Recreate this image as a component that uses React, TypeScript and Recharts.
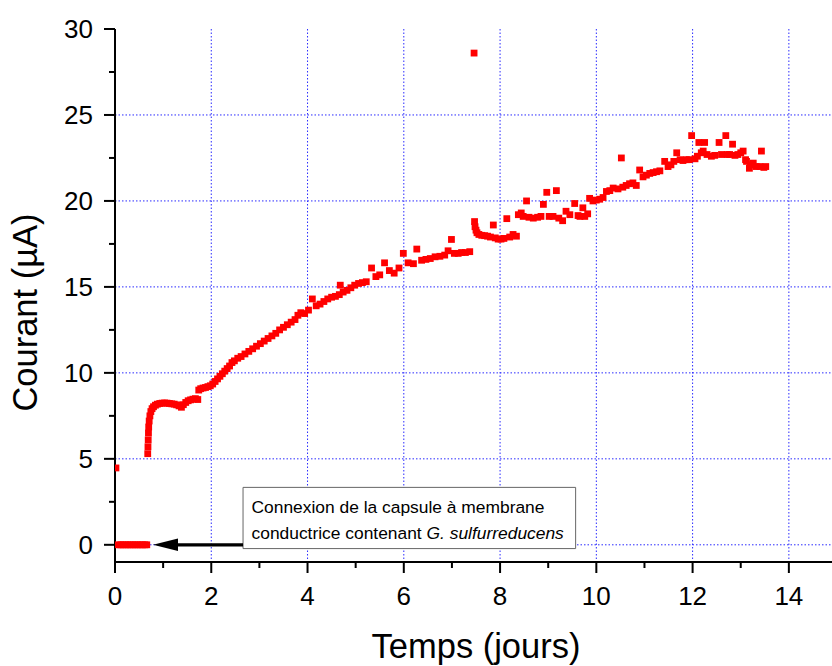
import React from 'react';
import {
  ScatterChart,
  Scatter,
  XAxis,
  YAxis,
  CartesianGrid,
  ReferenceArea,
  ReferenceLine,
} from 'recharts';

const FONT = 'Arial, "Liberation Sans", Helvetica, sans-serif';

// ---- axes ----
const X_TICKS = [0, 1, 2, 3, 4, 5, 6, 7, 8, 9, 10, 11, 12, 13, 14];
const X_MAJOR = [0, 2, 4, 6, 8, 10, 12, 14];
const Y_TICKS = [0, 2.5, 5, 7.5, 10, 12.5, 15, 17.5, 20, 22.5, 25, 27.5, 30];
const Y_MAJOR = [0, 5, 10, 15, 20, 25, 30];
const GRID_X = [2, 4, 6, 8, 10, 12, 14];
const GRID_Y = [0, 5, 10, 15, 20, 25];

// ---- data (days, µA) ----
const BASE_DAYS = [0.02, 0.07, 0.12, 0.17, 0.22, 0.27, 0.32, 0.37, 0.42, 0.47, 0.52, 0.57, 0.62, 0.66];
const BASE_UA = [4.47, 0, 0, 0, 0, 0, 0, 0, 0, 0, 0, 0, 0, 0];

const START_DAYS = [0.68, 0.685, 0.69, 0.695, 0.7, 0.71, 0.725, 0.745, 0.77, 0.8, 0.84, 0.88, 0.93, 0.98, 1.03, 1.08, 1.13, 1.18, 1.23, 1.28, 1.33, 1.38, 1.42, 1.47, 1.52, 1.57, 1.62, 1.67, 1.72];
const START_UA = [5.3, 5.7, 6.1, 6.5, 6.85, 7.2, 7.5, 7.75, 7.92, 8.03, 8.12, 8.18, 8.22, 8.24, 8.25, 8.24, 8.22, 8.2, 8.18, 8.14, 8.08, 8.0, 8.15, 8.28, 8.38, 8.43, 8.47, 8.5, 8.45];

const GROWTH_DAYS = [1.74, 1.78, 1.83, 1.88, 1.93, 1.98, 2.03, 2.08, 2.13, 2.18, 2.23, 2.28, 2.33, 2.38, 2.43, 2.48, 2.55, 2.62, 2.7, 2.78, 2.86, 2.94, 3.02, 3.1, 3.18, 3.26, 3.34, 3.42, 3.5, 3.58, 3.66, 3.74, 3.8, 3.86, 3.94, 4.02, 4.1, 4.18, 4.26, 4.34, 4.42, 4.5, 4.58, 4.66, 4.68, 4.74, 4.82, 4.9, 4.98, 5.06, 5.14, 5.22, 5.33, 5.42, 5.5, 5.6, 5.7, 5.8, 5.9, 5.99, 6.09, 6.2, 6.27, 6.37, 6.46, 6.55, 6.65, 6.75, 6.85, 6.92, 6.99, 7.05, 7.13, 7.2, 7.28, 7.37];
const GROWTH_UA = [9.0, 9.08, 9.12, 9.15, 9.2, 9.25, 9.35, 9.5, 9.65, 9.8, 9.95, 10.1, 10.25, 10.4, 10.6, 10.7, 10.85, 10.95, 11.1, 11.25, 11.4, 11.55, 11.7, 11.85, 12.0, 12.15, 12.3, 12.5, 12.65, 12.8, 12.95, 13.1, 13.35, 13.5, 13.45, 13.65, 14.3, 13.9, 14.0, 14.15, 14.3, 14.4, 14.45, 14.55, 15.1, 14.7, 14.8, 14.95, 15.1, 15.2, 15.25, 15.3, 16.1, 15.6, 15.7, 16.4, 15.95, 15.8, 16.1, 16.95, 16.4, 16.35, 17.2, 16.55, 16.6, 16.65, 16.75, 16.78, 16.85, 17.1, 17.76, 16.95, 16.95, 17.0, 17.0, 17.05];

const MID_DAYS = [7.46, 7.47, 7.48, 7.5, 7.52, 7.56, 7.62, 7.68, 7.74, 7.8, 7.86, 7.9, 7.96, 8.02, 8.08, 8.14, 8.2, 8.27, 8.34, 8.38, 8.44, 8.48, 8.55, 8.6, 8.69, 8.78, 8.85, 8.9, 8.97, 9.02, 9.1, 9.17, 9.22, 9.3, 9.37, 9.45, 9.55, 9.62, 9.66, 9.72, 9.76, 9.82, 9.86, 9.93];
const MID_UA = [28.6, 18.8, 18.5, 18.3, 18.15, 18.05, 18.0, 17.98, 17.95, 17.9, 18.6, 17.85, 17.78, 17.78, 17.82, 18.97, 17.9, 18.05, 17.95, 19.2, 19.3, 19.1, 20.0, 19.05, 19.0, 19.05, 19.1, 19.8, 20.5, 19.1, 19.1, 20.6, 19.0, 18.85, 19.4, 19.2, 19.85, 19.15, 19.1, 19.6, 19.1, 19.25, 20.15, 20.0];

const LATE_DAYS = [10.0, 10.07, 10.14, 10.21, 10.28, 10.35, 10.45, 10.52, 10.55, 10.62, 10.69, 10.76, 10.83, 10.9, 10.97, 11.04, 11.11, 11.18, 11.25, 11.32, 11.42, 11.49, 11.55, 11.61, 11.67, 11.74, 11.8, 11.87, 11.93, 11.98, 12.05, 12.1, 12.13, 12.18, 12.22, 12.25, 12.3, 12.39, 12.46, 12.55, 12.6, 12.69, 12.72, 12.77, 12.83, 12.88, 12.94, 13.0, 13.05, 13.1, 13.12, 13.18, 13.2, 13.26, 13.32, 13.4, 13.43, 13.48, 13.52];
const LATE_UA = [20.05, 20.1, 20.2, 20.55, 20.6, 20.75, 20.7, 22.5, 20.8, 20.9, 21.0, 21.05, 20.9, 21.8, 21.4, 21.5, 21.6, 21.65, 21.7, 21.75, 22.3, 22.0, 22.1, 22.3, 22.8, 22.4, 22.35, 22.4, 22.4, 23.8, 22.45, 22.6, 23.4, 22.8, 22.9, 23.4, 22.7, 22.6, 22.65, 23.4, 22.7, 23.8, 22.7, 22.7, 23.3, 22.65, 22.7, 22.8, 22.9, 22.4, 22.3, 21.9, 22.1, 22.2, 22.0, 22.0, 22.9, 21.95, 22.0];

// annotation (in data units)
const NOTE_BOX = { x1: 2.66, x2: 9.57, y1: -0.22, y2: 3.34 };
const ARROW_FROM = { x: 2.66, y: 0 };
const ARROW_TO = { x: 0.79, y: 0 };
const NOTE_LINE1 = 'Connexion de la capsule à membrane';
const NOTE_LINE2A = 'conductrice contenant ';
const NOTE_LINE2B = 'G. sulfurreducens';

const build = (d: number[], v: number[]) => d.map((x, i) => ({ x, y: v[i] }));
const DATA = [
  ...build(BASE_DAYS, BASE_UA),
  ...build(START_DAYS, START_UA),
  ...build(GROWTH_DAYS, GROWTH_UA),
  ...build(MID_DAYS, MID_UA),
  ...build(LATE_DAYS, LATE_UA),
];

const XTick = (props: any) => {
  const { x, y, payload } = props;
  const v = payload.value;
  const major = X_MAJOR.includes(v);
  return (
    <g>
      <line x1={x} x2={x} y1={y} y2={y + (major ? 11 : 6)} stroke="#000" strokeWidth={2} />
      {major && (
        <text x={x} y={y + 43} textAnchor="middle" fontSize={26} fontFamily={FONT} fill="#000">
          {v}
        </text>
      )}
    </g>
  );
};

const YTick = (props: any) => {
  const { x, y, payload } = props;
  const v = payload.value;
  const major = Y_MAJOR.includes(v);
  return (
    <g>
      <line x1={x - (major ? 11 : 6)} x2={x} y1={y} y2={y} stroke="#000" strokeWidth={2} />
      {major && (
        <text x={x - 22} y={y} dy="0.36em" textAnchor="end" fontSize={26} fontFamily={FONT} fill="#000">
          {v}
        </text>
      )}
    </g>
  );
};

const Square = (props: any) => {
  const { cx, cy } = props;
  if (cx == null || cy == null) return null;
  return <rect x={cx - 3.4} y={cy - 3.4} width={6.8} height={6.8} fill="#ff0000" />;
};

const XTitle = (props: any) => {
  const vb = props.viewBox;
  return (
    <text x={vb.x + vb.width / 2} y={vb.y + 96} textAnchor="middle" fontSize={34.5} fontFamily={FONT} fill="#000">
      Temps (jours)
    </text>
  );
};

const YTitle = (props: any) => {
  const vb = props.viewBox;
  const cx = vb.x + 37;
  const cy = vb.y + vb.height / 2 + 17;
  return (
    <text
      x={cx}
      y={cy}
      transform={`rotate(-90 ${cx} ${cy})`}
      textAnchor="middle"
      fontSize={34.5}
      fontFamily={FONT}
      fill="#000"
    >
      Courant (µA)
    </text>
  );
};

const NoteText = (props: any) => {
  const vb = props.viewBox;
  return (
    <g fontFamily={FONT} fontSize={17.4} fill="#000">
      <text x={vb.x + 8.5} y={vb.y + 26}>{NOTE_LINE1}</text>
      <text x={vb.x + 8.5} y={vb.y + 52}>
        {NOTE_LINE2A}
        <tspan fontStyle="italic">{NOTE_LINE2B}</tspan>
      </text>
    </g>
  );
};

const Arrow = (props: any) => {
  const { x1, y1, x2 } = props;
  const head = 25;
  return (
    <g>
      <line x1={x1} y1={y1} x2={x2 + head - 2} y2={y1} stroke="#000" strokeWidth={3.3} />
      <polygon points={`${x2},${y1} ${x2 + head},${y1 - 6.3} ${x2 + head},${y1 + 6.3}`} fill="#000" />
    </g>
  );
};

export default function App() {
  return (
    <div
      style={{
        position: 'fixed',
        left: 0,
        top: 0,
        width: 832,
        height: 666,
        overflow: 'hidden',
        background: '#fff',
      }}
    >
      <ScatterChart width={840} height={666} margin={{ top: 29, right: 3, bottom: 0, left: 0 }}>
        <CartesianGrid
          horizontal
          vertical
          horizontalValues={GRID_Y}
          verticalValues={GRID_X}
          stroke="#2a2aff"
          strokeDasharray="1.5 2"
          strokeWidth={1}
        />
        <XAxis
          type="number"
          dataKey="x"
          domain={[0, 15]}
          allowDataOverflow
          ticks={X_TICKS}
          interval={0}
          tickSize={0}
          tickMargin={0}
          tickLine={false}
          tick={<XTick />}
          axisLine={{ stroke: '#000', strokeWidth: 2 }}
          height={104}
          label={<XTitle />}
        />
        <YAxis
          type="number"
          dataKey="y"
          domain={[-1, 30]}
          allowDataOverflow
          ticks={Y_TICKS}
          interval={0}
          tickSize={0}
          tickMargin={0}
          tickLine={false}
          tick={<YTick />}
          axisLine={{ stroke: '#000', strokeWidth: 2 }}
          width={115}
          label={<YTitle />}
        />
        <Scatter data={DATA} shape={<Square />} isAnimationActive={false} />
        <ReferenceLine segment={[ARROW_FROM, ARROW_TO]} shape={<Arrow />} ifOverflow="visible" />
        <ReferenceArea
          x1={NOTE_BOX.x1}
          x2={NOTE_BOX.x2}
          y1={NOTE_BOX.y1}
          y2={NOTE_BOX.y2}
          fill="#fff"
          fillOpacity={1}
          stroke="#666"
          strokeWidth={1}
          ifOverflow="visible"
          label={<NoteText />}
        />
      </ScatterChart>
    </div>
  );
}
